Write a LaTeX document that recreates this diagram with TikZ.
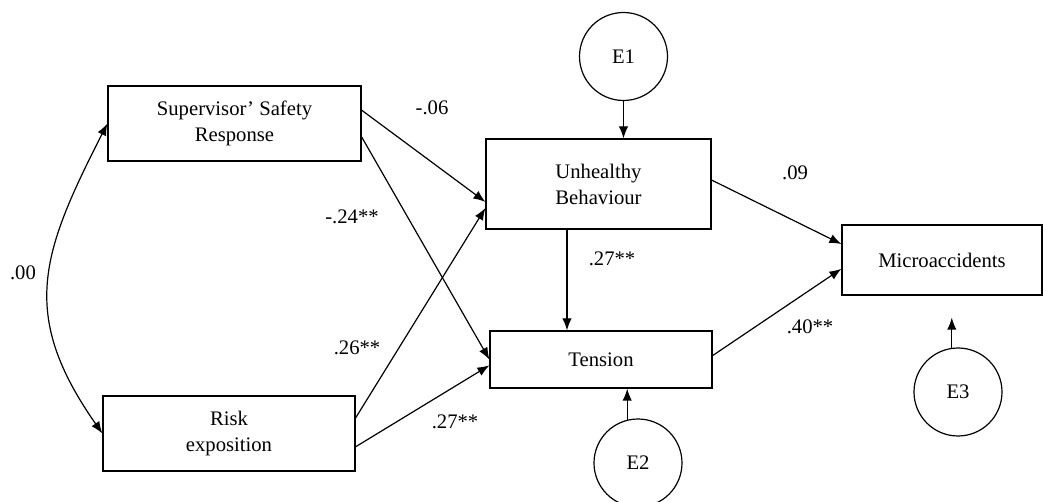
\documentclass[tikz,border=0pt]{standalone}
\usepackage{fontspec}
\setmainfont{Liberation Serif}
\usetikzlibrary{arrows.meta,calc}

\begin{document}
\begin{tikzpicture}[x=0.75pt,y=-0.75pt,
	var/.style={draw,line width=0.9pt,align=center,inner sep=0pt,font=\fontsize{15.5}{19.5}\selectfont},
	err/.style={draw,circle,line width=0.9pt,inner sep=0pt,minimum size=66pt,font=\fontsize{15.5}{19.5}\selectfont},
	arr/.style={line width=0.9pt,-{Latex[length=9pt,width=7pt]}},
	coef/.style={inner sep=0pt,font=\fontsize{15.5}{19.5}\selectfont}]
	%%%%% START %%%%%
	
	\useasboundingbox (0,0) rectangle (1043,502);
	
	\node[var,minimum width=189.75pt,minimum height=56.25pt] (sup) at (234.5,123.5) {Supervisor’ Safety\\Response};
	\node[var,minimum width=189pt,minimum height=56.25pt] (risk) at (229,433.5) {Risk\\exposition};
	\node[var,minimum width=168.75pt,minimum height=67.5pt] (unh) at (598.5,184) {Unhealthy\\Behaviour};
	\node[var,minimum width=166.5pt,minimum height=42.75pt] (ten) at (601,359.5) {Tension};
	\node[var,minimum width=150pt,minimum height=52.5pt] (mic) at (942,260) {Microaccidents};
	
	\node[err] (e1) at (623.5,56.5) {E1};
	\node[err] (e2) at (638,463) {E2};
	\node[err] (e3) at (958,392) {E3};
	
	\draw[arr,{Latex[length=9pt,width=7pt]}-{Latex[length=9pt,width=7pt]}] (sup.west) to[out=243,in=125,looseness=1.2] (risk.west);
	
	\draw[arr] (sup.6) -- (unh.189);
	\draw[arr] (sup.354) -- (ten.180);
	\draw[arr] (risk.7) -- (unh.192);
	\draw[arr] (risk.354) -- (ten.183);
	\draw[arr] (unh.2) -- (mic.171);
	\draw[arr] (ten.2) -- (mic.185);
	\draw[arr] ($(unh.south)+(-31.5,0)$) -- ($(ten.north)+(-34,0)$);
	
	\draw[arr] (e1.south) -- (e1.south |- unh.north);
	\draw[arr] (e2.104) -- (e2.104 |- ten.south);
	\draw[arr,shorten >=16.5pt] (e3.98) -- (e3.98 |- mic.south);
	
	\node[coef] (c00) at (23,273) {.00};
	\node[coef] (c06) at (432,108) {-.06};
	\node[coef] (c24) at (352,217) {-.24**};
	\node[coef] (c26) at (357,348) {.26**};
	\node[coef] (c27a) at (455,422) {.27**};
	\node[coef] (c27b) at (612,259) {.27**};
	\node[coef] (c09) at (795,173) {.09};
	\node[coef] (c40) at (810,327) {.40**};
	
	%%%%% END %%%%%
\end{tikzpicture}
\end{document}
